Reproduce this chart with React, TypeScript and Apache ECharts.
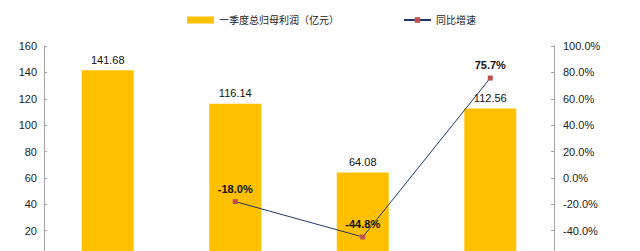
import React, { useEffect, useRef } from "react";
import * as echarts from "echarts";

// Quarterly data
const categories = ["2018Q1", "2019Q1", "2020Q1", "2021Q1"];
const profitValues = [141.68, 116.14, 64.08, 112.56];
const growthValues: (number | null)[] = [null, -18.0, -44.8, 75.7];

const profitName = "一季度总归母利润（亿元）";
const growthName = "同比增速";

const FONT = "'Liberation Sans', Arial, 'Noto Sans CJK SC', sans-serif";

export default function App() {
  const ref = useRef<HTMLDivElement>(null);

  useEffect(() => {
    if (!ref.current) return;
    const chart = echarts.init(ref.current, undefined, { renderer: "svg" });
    chart.setOption({
      animation: false,
      backgroundColor: "#ffffff",
      textStyle: { fontFamily: FONT },
      legend: {
        left: 182,
        top: 10,
        itemGap: 64,
        itemWidth: 27,
        itemHeight: 7,
        textStyle: { fontSize: 10, color: "#222", fontFamily: FONT },
        data: [
          { name: profitName, icon: "rect" },
          { name: growthName },
        ],
      },
      grid: { left: 44, right: 86, top: 46, bottom: 43 },
      xAxis: {
        type: "category",
        data: categories,
        axisLine: { lineStyle: { color: "#a6a6a6" } },
        axisTick: { show: false },
        axisLabel: { show: false },
      },
      yAxis: [
        {
          type: "value",
          min: 0,
          max: 160,
          interval: 20,
          splitLine: { show: false },
          axisLine: { show: true, lineStyle: { color: "#a6a6a6" } },
          axisTick: { show: true, inside: true, length: 3, lineStyle: { color: "#a6a6a6" } },
          axisLabel: { color: "#222", fontSize: 11, margin: 7 },
        },
        {
          type: "value",
          min: -60,
          max: 100,
          interval: 20,
          splitLine: { show: false },
          axisLine: { show: true, lineStyle: { color: "#a6a6a6" } },
          axisTick: { show: true, inside: true, length: 3, lineStyle: { color: "#a6a6a6" } },
          axisLabel: {
            color: "#222",
            fontSize: 11,
            margin: 9,
            formatter: (v: number) => v.toFixed(1) + "%",
          },
        },
      ],
      series: [
        {
          name: profitName,
          type: "bar",
          yAxisIndex: 0,
          data: profitValues,
          barWidth: 52,
          itemStyle: { color: "#ffc000" },
          label: {
            show: true,
            position: "top",
            distance: 5,
            color: "#111",
            fontSize: 11,
            formatter: (p: any) => p.value.toFixed(2),
          },
        },
        {
          name: growthName,
          type: "line",
          yAxisIndex: 1,
          data: growthValues,
          symbol: "rect",
          symbolSize: 5,
          lineStyle: { color: "#1f3864", width: 1 },
          itemStyle: { color: "#c0504d" },
          label: {
            show: true,
            position: "top",
            distance: 5,
            color: "#111",
            fontSize: 11,
            fontWeight: "bold",
            formatter: (p: any) => (p.value == null ? "" : Number(p.value).toFixed(1) + "%"),
          },
          z: 5,
        },
      ],
    });
    return () => chart.dispose();
  }, []);

  return (
    <div
      ref={ref}
      style={{ position: "fixed", left: 0, top: 0, width: 640, height: 300 }}
    />
  );
}
